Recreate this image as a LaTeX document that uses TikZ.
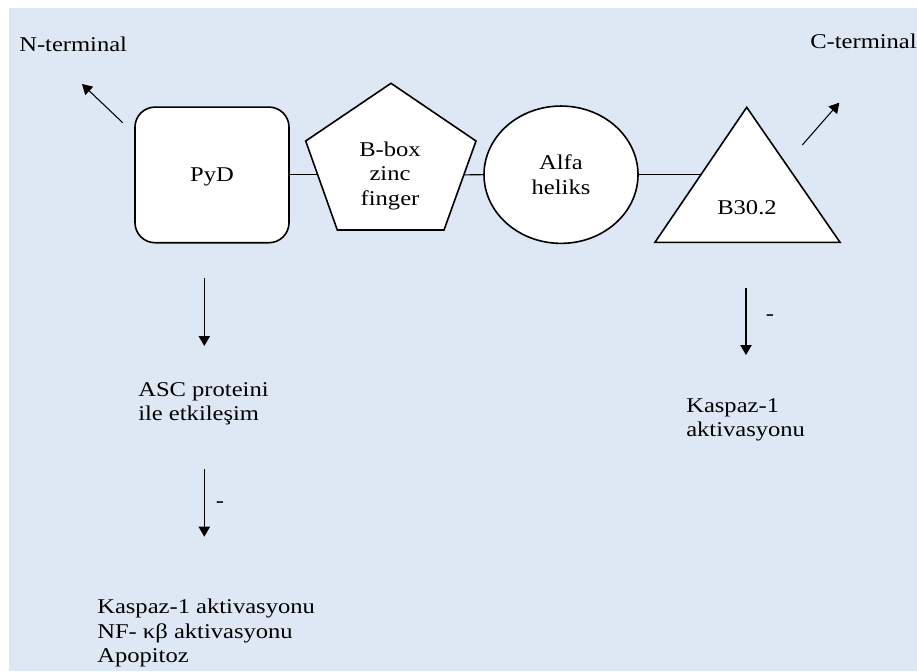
\documentclass[tikz,border=0pt]{standalone}
\usepackage{fontspec}
\setmainfont{Liberation Serif}[FakeStretch=1.17]
\usetikzlibrary{arrows.meta,shapes.geometric,calc}

\definecolor{bgblue}{RGB}{221,232,244}

\begin{document}
\begin{tikzpicture}[x=0.75pt,y=0.75pt,yscale=-1,xscale=1,
  every node/.style={font=\fontsize{15.75}{18.4}\selectfont},
  domainbox/.style={draw, fill=white, line width=1.2pt},
  link/.style={line width=0.8pt},
  arr/.style={line width=0.8pt, -{Triangle[length=7.5pt,width=8.5pt]}},
  txt/.style={inner sep=0.75pt, align=left}]
%set diagram size
\useasboundingbox (0,0) rectangle (917,671);
%Background
\fill[bgblue] (9,8) rectangle (917,671);

%Shape: Rounded Rectangle [PyD]
\node (pyd) [domainbox, rounded corners=15pt, minimum width=115.5pt, minimum height=101.7pt, inner sep=0pt, text depth=0pt] at (212,174.9) {PyD};
%Shape: Pentagon [B-box]
\coordinate (bbT) at (391,83.3);
\coordinate (bbUL) at (305.7,141);
\coordinate (bbUR) at (476,141);
\coordinate (bbBL) at (337.3,230);
\coordinate (bbBR) at (444,230);
\draw [domainbox] (bbT) -- (bbUR) -- (bbBR) -- (bbBL) -- (bbUL) -- cycle;
\node (bbox) [txt, align=center] at (390,175.6) {B-box\\zinc\\finger};
%Shape: Ellipse [Alfa heliks]
\node (alfa) [domainbox, ellipse, minimum width=115.5pt, minimum height=103pt, inner sep=0pt, align=center] at (561,174.7) {Alfa\\heliks};
%Shape: Triangle [B30.2]
\coordinate (trA) at (746.7,107.3);
\coordinate (trL) at (655,242.3);
\coordinate (trR) at (840,242.3);
\draw [domainbox] (trA) -- (trR) -- (trL) -- cycle;
\node (b30) [txt] at (747,208) {B30.2};

%Straight Lines between domains
\coordinate (bbW) at ($(bbUL)!0.38!(bbBL)$);
\coordinate (bbE) at ($(bbUR)!0.38!(bbBR)$);
\coordinate (trW) at ($(trA)!0.5!(trL)$);
\draw [link] (pyd.east) -- (pyd.east -| bbW);
\draw [link] (bbE) -- (alfa.west);
\draw [link] (alfa.east) -- (alfa.east -| trW);

%Arrows to termini
\coordinate (nTail) at (122.7,122.7);
\coordinate (nTip) at (82,84);
\draw [arr] (nTail) -- (nTip);
\coordinate (cTail) at (802.3,145);
\coordinate (cTip) at (839.3,102.7);
\draw [arr] (cTail) -- (cTip);

%Downward arrows
\coordinate (a1s) at (204.3,278.3);
\coordinate (a1e) at (204.3,346);
\draw [arr] (a1s) -- (a1e);
\coordinate (a2s) at (204.3,469.3);
\coordinate (a2e) at (204.3,536.7);
\draw [arr] (a2s) -- (a2e);
\coordinate (a3s) at (746,288.3);
\coordinate (a3e) at (746,355);
\draw [arr] (a3s) -- (a3e);

% Text Nodes
\node (nterm) [txt, anchor=base west] at (18,51.7) {N-terminal};
\node (cterm) [txt, anchor=base west] at (809,48.3) {C-terminal};
\node (asc) [txt, anchor=west] at (137,404) {ASC proteini\\ile etkileşim};
\node (pydout) [txt, anchor=west] at (96,633) {Kaspaz-1 aktivasyonu\\NF- κβ aktivasyonu\\Apopitoz};
\node (b30out) [txt, anchor=west] at (685,420) {Kaspaz-1\\aktivasyonu};
\node (neg1) [txt] at (220,505) {-};
\node (neg2) [txt] at (770,318) {-};

\end{tikzpicture}
\end{document}
